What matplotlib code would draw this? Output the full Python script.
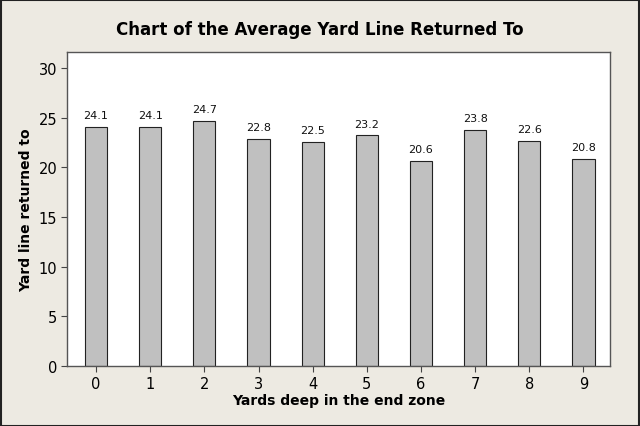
import matplotlib.pyplot as plt
import numpy as np

# data
yards_deep = ["0", "1", "2", "3", "4", "5", "6", "7", "8", "9"]
avg_return = [24.1, 24.1, 24.7, 22.8, 22.5, 23.2, 20.6, 23.8, 22.6, 20.8]

bg = "#EDEAE2"
fig = plt.figure(figsize=(6.4, 4.27), dpi=100, facecolor=bg)
ax = fig.add_axes([67 / 640, 1 - 367 / 427, (610 - 67) / 640, (367 - 53) / 427])

index = np.arange(len(yards_deep))
bars = ax.bar(index, avg_return, 0.41, color="#C0C0C0", edgecolor="#222222", linewidth=0.8)

for b, v in zip(bars, avg_return):
    ax.text(b.get_x() + b.get_width() / 2, v + 0.7, f"{v:.1f}",
            ha="center", va="bottom", fontsize=8, color="#111111")

ax.set_xlim(-0.536, 9.49)
ax.set_ylim(0, 31.6)
ax.set_xticks(index)
ax.set_xticklabels(yards_deep)
ax.set_yticks([0, 5, 10, 15, 20, 25, 30])
ax.tick_params(direction="out", length=4, labelsize=10.5, color="#444444", pad=3)

for s in ax.spines.values():
    s.set_color("#555555")
    s.set_linewidth(1.0)

ax.set_xlabel("Yards deep in the end zone", fontsize=10, fontweight="bold", labelpad=2)
ax.set_ylabel("Yard line returned to", fontsize=10, fontweight="bold", labelpad=4)
fig.text(0.5, 1 - 30 / 427, "Chart of the Average Yard Line Returned To",
         ha="center", va="center", fontsize=12, fontweight="bold")

# outer frame
fig.patches.append(plt.Rectangle((0.001, 0.001), 0.997, 0.997, transform=fig.transFigure,
                                 fill=False, edgecolor="#222222", linewidth=1.5))

fig.savefig("out.png", dpi=100, facecolor=bg)
